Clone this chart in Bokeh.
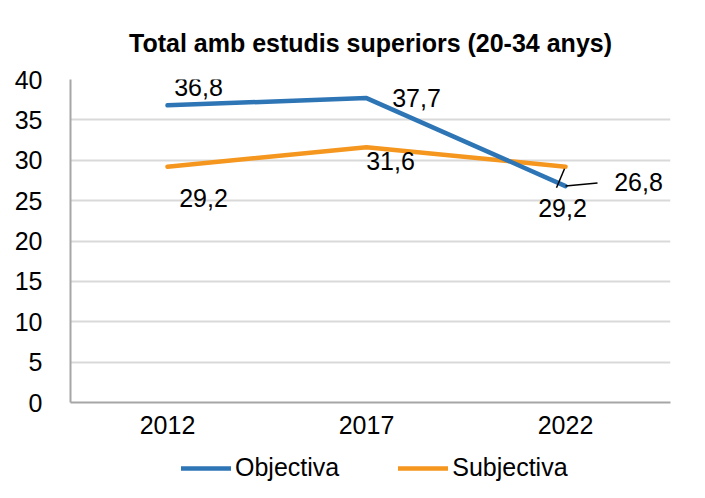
from bokeh.plotting import figure
from bokeh.layouts import column
from bokeh.models import ColumnDataSource, FixedTicker, Range1d, Legend, LegendItem
from bokeh.core.properties import value
from bokeh.embed import file_html
from bokeh.resources import INLINE

# ---- data ----
years = [2012, 2017, 2022]
objectiva = [36.8, 37.7, 26.8]
subjectiva = [29.2, 31.6, 29.2]
y_ticks = [0, 5, 10, 15, 20, 25, 30, 35, 40]
series_names = ["Objectiva", "Subjectiva"]
title_text = "Total amb estudis superiors (20-34 anys)"

FONT = "Liberation Sans"
BLUE = "#2E75B6"
ORANGE = "#F5961F"

def fmt(v):
    return f"{v:.1f}".replace(".", ",")

# layout constants
W = 697
H_MAIN, H_LEG = 445, 45
FRAME_W, FRAME_H = 600, 323
PX_PER_YEAR = 39.8
X0 = 2012 - 97 / PX_PER_YEAR
X1 = X0 + FRAME_W / PX_PER_YEAR
PX_PER_UNIT = FRAME_H / 40.0

fig = figure(width=W, height=H_MAIN, output_backend="svg", toolbar_location=None,
             x_range=Range1d(X0, X1), y_range=Range1d(0, 40),
             min_border_left=70, min_border_right=27, min_border_top=79, min_border_bottom=43)
fig.outline_line_color = None
fig.background_fill_color = "white"
fig.border_fill_color = "white"

# title
fig.title.text = title_text
fig.title.text_font = FONT
fig.title.text_font_size = "25px"
fig.title.text_font_style = "bold"
fig.title.text_color = "black"
fig.title.align = "center"
fig.title.offset = 15
fig.title.standoff = 42
fig.title.vertical_align = "top"

# axes
fig.xaxis.ticker = FixedTicker(ticks=years)
fig.yaxis.ticker = FixedTicker(ticks=y_ticks)
for ax in (fig.xaxis[0], fig.yaxis[0]):
    ax.major_label_text_font = FONT
    ax.major_label_text_font_size = "25px"
    ax.major_label_text_color = "black"
    ax.major_tick_line_color = None
    ax.minor_tick_line_color = None
    ax.axis_line_color = "#A6A6A6"
    ax.axis_line_width = 2
fig.yaxis.major_label_standoff = 22
fig.xaxis.major_label_standoff = 7

fig.xgrid.grid_line_color = None
fig.ygrid.grid_line_color = "#D9D9D9"
fig.ygrid.grid_line_width = 2

# lines
src_o = ColumnDataSource(dict(x=years, y=objectiva,
                              label=[fmt(v) for v in objectiva],
                              dx=[31, 50, 73], dy=[-18, 0, -4]))
src_s = ColumnDataSource(dict(x=years, y=subjectiva,
                              label=[fmt(v) for v in subjectiva],
                              dx=[36, 24, -3], dy=[31, 14, 41]))

fig.line("x", "y", source=src_s, line_color=ORANGE, line_width=4.5, line_cap="round", line_join="round")
fig.line("x", "y", source=src_o, line_color=BLUE, line_width=4.5, line_cap="round", line_join="round")

for src in (src_o, src_s):
    fig.text("x", "y", text="label", source=src, x_offset="dx", y_offset="dy",
             text_align="center", text_baseline="middle",
             text_font=value(FONT), text_font_size="25px", text_color="black")

# leader lines for the 2022 labels
xo, yo = years[2], objectiva[2]
xs, ys = years[2], subjectiva[2]
fig.segment(x0=[xo, xs - 9 / PX_PER_YEAR], y0=[yo, ys - 21 / PX_PER_UNIT],
            x1=[xo + 32 / PX_PER_YEAR, xs - 1 / PX_PER_YEAR], y1=[yo + 3 / PX_PER_UNIT, ys - 2 / PX_PER_UNIT],
            line_color="black", line_width=1.5)

# legend strip (series drawn outside its visible range, only the legend shows)
leg = figure(width=W, height=H_LEG, output_backend="svg", toolbar_location=None,
             x_axis_type=None, y_axis_type=None, x_range=Range1d(0, 1), y_range=Range1d(0, 1),
             min_border=0)
leg.outline_line_color = None
leg.grid.grid_line_color = None
lo = leg.line("x", "y", source=src_o, line_color=BLUE, line_width=4.5, line_cap="round")
ls = leg.line("x", "y", source=src_s, line_color=ORANGE, line_width=4.5, line_cap="round")
legend = Legend(items=[LegendItem(label=series_names[0], renderers=[lo]),
                       LegendItem(label=series_names[1], renderers=[ls])],
                orientation="horizontal", location=(111, 8),
                label_text_font=FONT, label_text_font_size="25px", label_text_color="black",
                glyph_width=50, glyph_height=20, label_standoff=4, spacing=59,
                border_line_color=None, background_fill_alpha=0,
                margin=0, padding=3)
leg.add_layout(legend, "center")

p = column(fig, leg, spacing=0)

open("out.html", "w").write(file_html(p, INLINE))
